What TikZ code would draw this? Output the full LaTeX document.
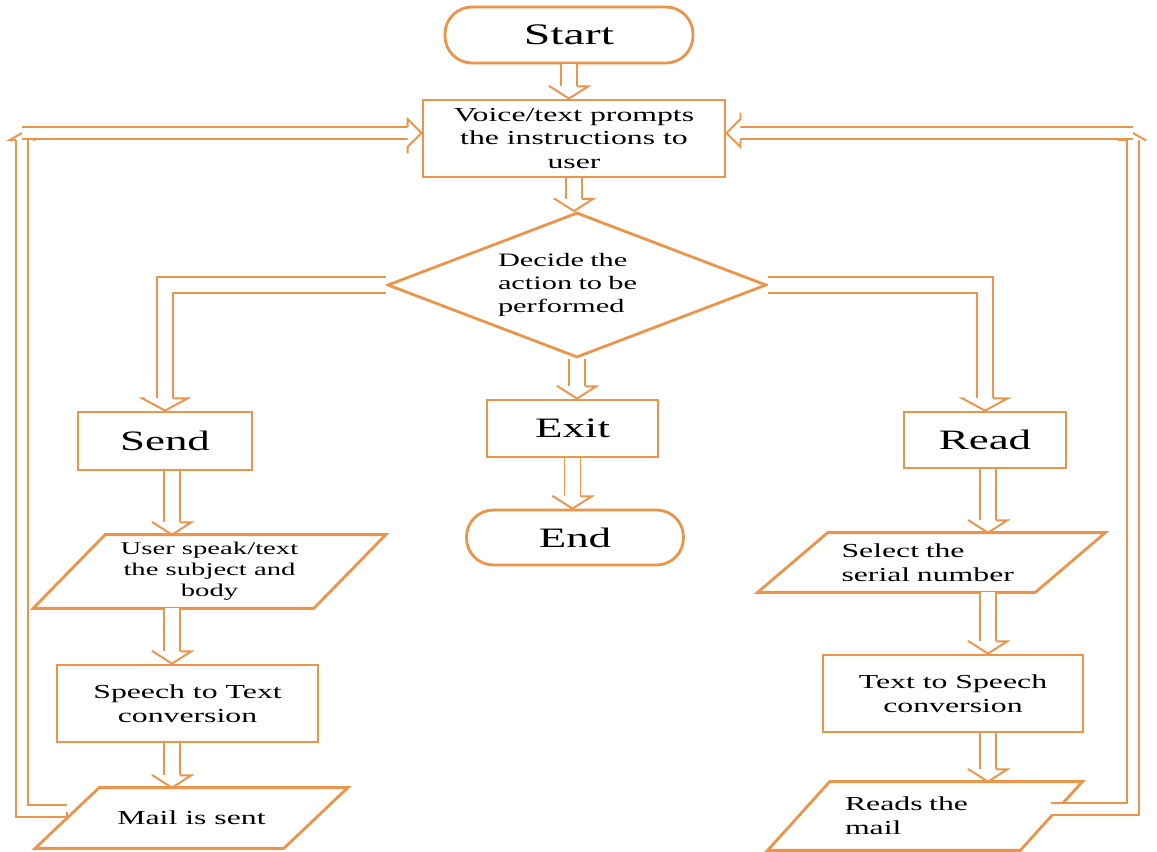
\documentclass[tikz,border=0pt]{standalone}
\usepackage{fontspec}
\setmainfont{Liberation Serif}[FakeStretch=1.6]
\usetikzlibrary{arrows.meta,shapes.geometric,decorations.markings}
\definecolor{org}{RGB}{236,148,74}
\newdimen\pxu \pxu=0.02cm
\newcommand\myfStart{\fontsize{17pt}{20pt}\selectfont}
\newcommand\myfBig{\fontsize{16pt}{19pt}\selectfont}
\newcommand\myfMid{\fontsize{11.3pt}{13.6pt}\selectfont}
\newcommand\myfDec{\fontsize{10.8pt}{13.2pt}\selectfont}
\newcommand\myfSm{\fontsize{10.2pt}{11.9pt}\selectfont}
\begin{document}
\begin{tikzpicture}[x=0.02cm,y=-0.02cm,
  box/.style={draw=org, line width=1.6pt, fill=white, inner sep=0pt, align=center, text=black},
  term/.style={box, rounded corners=27\pxu},
  pbox/.style={inner sep=0pt, align=center, text=black},
  pline/.style={draw=org, line width=1.6pt, line join=miter},
  % vertical hollow double arrow
  vdar/.style={draw=org, line width=1.1pt, double=white, double distance=8pt, shorten >=7pt,
    postaction={decorate, decoration={markings, mark=at position 1 with {
      \fill[white] (-7pt,4.55pt) -- (-7pt,11pt) -- (0pt,0pt) -- (-7pt,-11pt) -- (-7pt,-4.55pt) -- cycle;
      \draw[org, line width=1.1pt, line join=miter] (-7pt,4.55pt) -- (-7pt,11pt) -- (0pt,0pt) -- (-7pt,-11pt) -- (-7pt,-4.55pt);
    }}}},
  % double arrow with narrower shaft
  dar/.style={draw=org, line width=1.1pt, double=white, double distance=6pt, shorten >=8pt,
    postaction={decorate, decoration={markings, mark=at position 1 with {
      \fill[white] (-8pt,3.55pt) -- (-8pt,8pt) -- (0pt,0pt) -- (-8pt,-8pt) -- (-8pt,-3.55pt) -- cycle;
      \draw[org, line width=1.1pt, line join=miter] (-8pt,3.55pt) -- (-8pt,8pt) -- (0pt,0pt) -- (-8pt,-8pt) -- (-8pt,-3.55pt);
    }}}},
  % branch arrow (wide head)
  bdar/.style={draw=org, line width=1.1pt, double=white, double distance=8pt, shorten >=7pt,
    postaction={decorate, decoration={markings, mark=at position 1 with {
      \fill[white] (-7pt,4.55pt) -- (-7pt,13pt) -- (0pt,0pt) -- (-7pt,-13pt) -- (-7pt,-4.55pt) -- cycle;
      \draw[org, line width=1.1pt, line join=miter] (-7pt,4.55pt) -- (-7pt,13pt) -- (0pt,0pt) -- (-7pt,-13pt) -- (-7pt,-4.55pt);
    }}}},
  % corner arrow (small head)
  cdar/.style={draw=org, line width=1.1pt, double=white, double distance=6pt, shorten >=4pt,
    postaction={decorate, decoration={markings, mark=at position 1 with {
      \fill[white] (-4pt,3.55pt) -- (-4pt,7pt) -- (0pt,0pt) -- (-4pt,-7pt) -- (-4pt,-3.55pt) -- cycle;
      \draw[org, line width=1.1pt, line join=miter] (-4pt,3.55pt) -- (-4pt,7pt) -- (0pt,0pt) -- (-4pt,-7pt) -- (-4pt,-3.55pt);
    }}}},
  tailcap/.style={postaction={decorate, decoration={markings, mark=at position 0 with {
      \draw[org, line width=1.1pt] (0pt,3.55pt) -- (0pt,-3.55pt);
    }}}}
]
\fill[white] (0,0) rectangle (1157,852);
\useasboundingbox (0,0) rectangle (1157,852);

% centre column
\node[term, minimum width=248\pxu, minimum height=56\pxu, font=\myfStart] (start) at (569,35) {Start};
\node[box, minimum width=302\pxu, minimum height=77\pxu, font=\myfMid] (voice) at (574,138.5) {Voice/text prompts\\the instructions to\\user};
\node[box, diamond, aspect=2.6, minimum width=379\pxu, minimum height=145\pxu, font=\myfDec, text width=158\pxu, align=left] (dia) at (577,285) {Decide the\\action to be\\performed};
\node[box, minimum width=171\pxu, minimum height=57\pxu, font=\myfBig] (exit) at (572.5,428.5) {Exit};
\node[term, minimum width=217\pxu, minimum height=55\pxu, font=\myfBig] (endn) at (575,537.5) {End};

% left column
\node[box, minimum width=174\pxu, minimum height=58\pxu, font=\myfBig] (send) at (165,441) {Send};
\node[pbox, minimum width=280\pxu, minimum height=73\pxu, font=\myfSm] (usr) at (209.5,571.5) {User speak/text\\the subject and\\body};
\draw[pline] ([xshift=36\pxu]usr.north west) -- ([xshift=36\pxu]usr.north east) -- ([xshift=-36\pxu]usr.south east) -- ([xshift=-36\pxu]usr.south west) -- cycle;
\node[box, minimum width=261\pxu, minimum height=77\pxu, font=\myfMid] (stt) at (187.5,703.5) {Speech to Text\\conversion};
\node[pbox, minimum width=248\pxu, minimum height=60\pxu, font=\myfMid] (mail) at (191.5,818) {Mail is sent};
\draw[pline] ([xshift=32\pxu]mail.north west) -- ([xshift=32\pxu]mail.north east) -- ([xshift=-32\pxu]mail.south east) -- ([xshift=-32\pxu]mail.south west) -- cycle;

% right column
\node[box, minimum width=162\pxu, minimum height=56\pxu, font=\myfBig] (read) at (985,440) {Read};
\node[pbox, minimum width=277\pxu, minimum height=59\pxu, font=\myfMid, text width=180\pxu, align=left] (sel) at (931.5,562.5) {Select the\\serial number};
\draw[pline] ([xshift=35\pxu]sel.north west) -- ([xshift=35\pxu]sel.north east) -- ([xshift=-35\pxu]sel.south east) -- ([xshift=-35\pxu]sel.south west) -- cycle;
\node[box, minimum width=260\pxu, minimum height=77\pxu, font=\myfMid] (tts) at (953,693.5) {Text to Speech\\conversion};
\node[pbox, minimum width=252\pxu, minimum height=68\pxu, font=\myfMid, text width=160\pxu, align=left] (reads) at (925,816) {Reads the\\mail};
\draw[pline] ([xshift=31\pxu]reads.north west) -- ([xshift=31\pxu]reads.north east) -- ([xshift=-31\pxu]reads.south east) -- ([xshift=-31\pxu]reads.south west) -- cycle;

% column guide coordinates
\coordinate (lcol) at (172,0);
\coordinate (rcol) at (988,0);
\coordinate (lb) at (22,811);
\coordinate (lt) at (22,133);
\coordinate (rb) at (1133,809);
\coordinate (rt) at (1133,133);

% centre arrows
\draw[vdar] (start.south) -- (start.south |- voice.north);
\draw[vdar] (voice.south) -- (voice.south |- dia.north);
\draw[vdar] (dia.south) -- (dia.south |- exit.north);
\draw[vdar] (exit.south) -- (exit.south |- endn.north);

% branches
\draw[bdar] (dia.west) -| (send.north);
\draw[bdar] (dia.east) -| (read.north);

% left column arrows
\draw[vdar] (send.south -| lcol) -- (usr.north -| lcol);
\draw[vdar] (usr.south -| lcol) -- (stt.north -| lcol);
\draw[vdar] (stt.south -| lcol) -- (mail.north -| lcol);

% right column arrows
\draw[vdar] (read.south -| rcol) -- (sel.north -| rcol);
\draw[vdar] (sel.south -| rcol) -- (tts.north -| rcol);
\draw[vdar] (tts.south -| rcol) -- (reads.north -| rcol);

% feedback loops
\draw[cdar, tailcap] ([yshift=7\pxu]mail.west) -- (lb) -- (lt);
\draw[dar] (lt) -- (voice.west |- lt);
\draw[cdar] ([yshift=7\pxu]reads.east) -- (rb) -- (rt);
\draw[dar] (rt) -- (voice.east |- rt);
\end{tikzpicture}
\end{document}
